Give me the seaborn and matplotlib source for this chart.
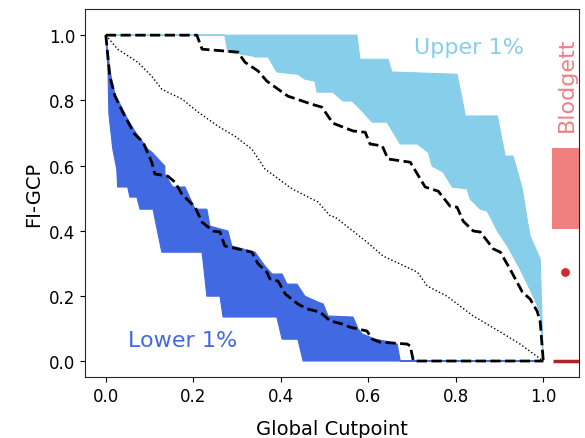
import numpy as np
import pandas as pd
import matplotlib
matplotlib.use("Agg")
import matplotlib.pyplot as plt
import seaborn as sns

# === Data ===
# Upper 1% band (skyblue): top edge and bottom edge
upper_top_x = [0.0, 0.574, 0.581, 0.645, 0.654, 0.803, 0.822, 0.895, 0.913, 0.931,
               0.952, 0.963, 0.970, 0.993, 1.0]
upper_top_y = [1.0, 1.0, 0.926, 0.926, 0.887, 0.880, 0.752, 0.752, 0.629, 0.629,
               0.528, 0.436, 0.383, 0.313, 0.0]
upper_bot_x = [0.0, 0.272, 0.279, 0.336, 0.341, 0.371, 0.391, 0.439, 0.455, 0.478,
               0.483, 0.519, 0.542, 0.563, 0.586, 0.609, 0.643, 0.673, 0.712, 0.737,
               0.746, 0.771, 0.792, 0.826, 0.833, 0.856, 0.872, 0.895, 0.918, 0.947,
               0.977, 0.993, 1.0]
upper_bot_y = [1.0, 1.0, 0.948, 0.936, 0.933, 0.933, 0.887, 0.880, 0.865, 0.859,
               0.825, 0.825, 0.798, 0.798, 0.767, 0.733, 0.733, 0.666, 0.666, 0.641,
               0.598, 0.580, 0.534, 0.528, 0.497, 0.466, 0.460, 0.399, 0.353, 0.282,
               0.199, 0.150, 0.0]

# Lower 1% band (royalblue): top edge and bottom edge
lower_top_x = [0.0, 0.009, 0.014, 0.021, 0.050, 0.066, 0.096, 0.105, 0.135, 0.135,
               0.153, 0.181, 0.204, 0.231, 0.238, 0.279, 0.288, 0.341, 0.364, 0.380,
               0.403, 0.414, 0.437, 0.455, 0.485, 0.497, 0.508, 0.565, 0.577, 0.586,
               0.616, 0.650, 0.666, 0.673, 1.0]
lower_top_y = [1.0, 0.896, 0.859, 0.819, 0.742, 0.706, 0.650, 0.641, 0.598, 0.574,
               0.534, 0.534, 0.466, 0.466, 0.414, 0.399, 0.353, 0.334, 0.291, 0.267,
               0.267, 0.236, 0.236, 0.199, 0.181, 0.175, 0.138, 0.135, 0.098, 0.083,
               0.067, 0.058, 0.052, 0.0, 0.0]
lower_bot_x = [0.0, 0.005, 0.007, 0.016, 0.025, 0.027, 0.050, 0.055, 0.071, 0.078,
               0.108, 0.117, 0.128, 0.220, 0.231, 0.261, 0.268, 0.391, 0.403, 0.439,
               0.451, 1.0]
lower_bot_y = [1.0, 0.896, 0.758, 0.650, 0.589, 0.534, 0.534, 0.503, 0.503, 0.466,
               0.466, 0.405, 0.334, 0.334, 0.199, 0.199, 0.135, 0.135, 0.067, 0.067,
               0.0, 0.0]

# observed bounds (dashed)
upper_obs_x = [0.0, 0.208, 0.220, 0.302, 0.318, 0.348, 0.368, 0.416, 0.471, 0.494,
               0.519, 0.565, 0.593, 0.604, 0.632, 0.645, 0.696, 0.730, 0.760, 0.787,
               0.803, 0.817, 0.840, 0.856, 0.886, 0.902, 0.924, 0.952, 0.970, 0.986,
               0.993, 1.0]
upper_obs_y = [1.0, 1.0, 0.957, 0.948, 0.917, 0.890, 0.859, 0.813, 0.788, 0.779,
               0.730, 0.706, 0.702, 0.666, 0.660, 0.620, 0.610, 0.534, 0.521, 0.475,
               0.472, 0.429, 0.399, 0.396, 0.344, 0.334, 0.282, 0.212, 0.190, 0.153,
               0.120, 0.0]
lower_obs_x = [0.0, 0.009, 0.021, 0.043, 0.066, 0.085, 0.105, 0.112, 0.142, 0.158,
               0.174, 0.204, 0.220, 0.245, 0.261, 0.272, 0.302, 0.334, 0.348, 0.368,
               0.375, 0.394, 0.410, 0.439, 0.460, 0.490, 0.513, 0.542, 0.558, 0.577,
               0.597, 0.609, 0.627, 0.689, 0.696, 0.703, 1.0]
lower_obs_y = [1.0, 0.874, 0.813, 0.752, 0.696, 0.672, 0.610, 0.574, 0.567, 0.549,
               0.512, 0.472, 0.426, 0.399, 0.396, 0.353, 0.344, 0.334, 0.298, 0.273,
               0.252, 0.245, 0.206, 0.175, 0.160, 0.150, 0.123, 0.113, 0.104, 0.098,
               0.092, 0.067, 0.058, 0.052, 0.046, 0.0, 0.0]

# median (dotted)
median_x = [0.0, 0.027, 0.073, 0.105, 0.128, 0.174, 0.211, 0.256, 0.295, 0.334,
            0.364, 0.426, 0.485, 0.513, 0.524, 0.597, 0.634, 0.712, 0.735, 0.780,
            0.840, 0.902, 0.947, 1.0]
median_y = [1.0, 0.957, 0.917, 0.874, 0.834, 0.804, 0.764, 0.721, 0.690, 0.650,
            0.589, 0.528, 0.488, 0.445, 0.442, 0.365, 0.322, 0.273, 0.230, 0.199,
            0.138, 0.089, 0.052, 0.0]

# Blodgett summary
blodgett_range = [0.405, 0.655]
blodgett_point = 0.273
blodgett_obs = 0.0

# === Plot ===
sns.set_style("ticks")
fig, ax = plt.subplots(figsize=(5.85, 4.39), dpi=100)
fig.subplots_adjust(left=0.145, right=0.99, bottom=0.139, top=0.977)

ax.fill(upper_top_x + upper_bot_x[::-1], upper_top_y + upper_bot_y[::-1],
        facecolor="skyblue", edgecolor="skyblue", lw=0.8)
ax.fill(lower_top_x + lower_bot_x[::-1], lower_top_y + lower_bot_y[::-1],
        facecolor="royalblue", edgecolor="royalblue", lw=0.8)

df_up = pd.DataFrame({"x": upper_obs_x, "y": upper_obs_y})
df_lo = pd.DataFrame({"x": lower_obs_x, "y": lower_obs_y})
df_med = pd.DataFrame({"x": median_x, "y": median_y})
sns.lineplot(data=df_up, x="x", y="y", sort=False, estimator=None,
             color="black", linestyle="--", lw=2.0, ax=ax)
sns.lineplot(data=df_lo, x="x", y="y", sort=False, estimator=None,
             color="black", linestyle="--", lw=2.0, ax=ax)
sns.lineplot(data=df_med, x="x", y="y", sort=False, estimator=None,
             color="black", linestyle=":", lw=1.0, ax=ax)

# Blodgett column on the right
ax.fill_between([1.02, 1.12], blodgett_range[0], blodgett_range[1],
                color="lightcoral", lw=0)
ax.scatter([1.05], [blodgett_point], color="#d62728", s=28, zorder=5)
ax.hlines(blodgett_obs, 1.023, 1.12, color="firebrick", lw=2.5)

ax.text(0.83, 0.965, "Upper 1%", color="skyblue", fontsize=16,
        ha="center", va="center")
ax.text(0.05, 0.065, "Lower 1%", color="royalblue", fontsize=16,
        ha="left", va="center")
ax.text(1.055, 0.85, "Blodgett", color="lightcoral", fontsize=16,
        rotation=90, ha="center", va="center")

ax.set_xlim(-0.048, 1.082)
ax.set_ylim(-0.049, 1.08)
ax.set_xticks([0.0, 0.2, 0.4, 0.6, 0.8, 1.0])
ax.set_yticks([0.0, 0.2, 0.4, 0.6, 0.8, 1.0])
ax.tick_params(labelsize=12, colors="black")
ax.set_xlabel("Global Cutpoint", fontsize=14, labelpad=10, color="black")
ax.set_ylabel("FI-GCP", fontsize=14, color="black")

plt.savefig("out.png", dpi=100)
